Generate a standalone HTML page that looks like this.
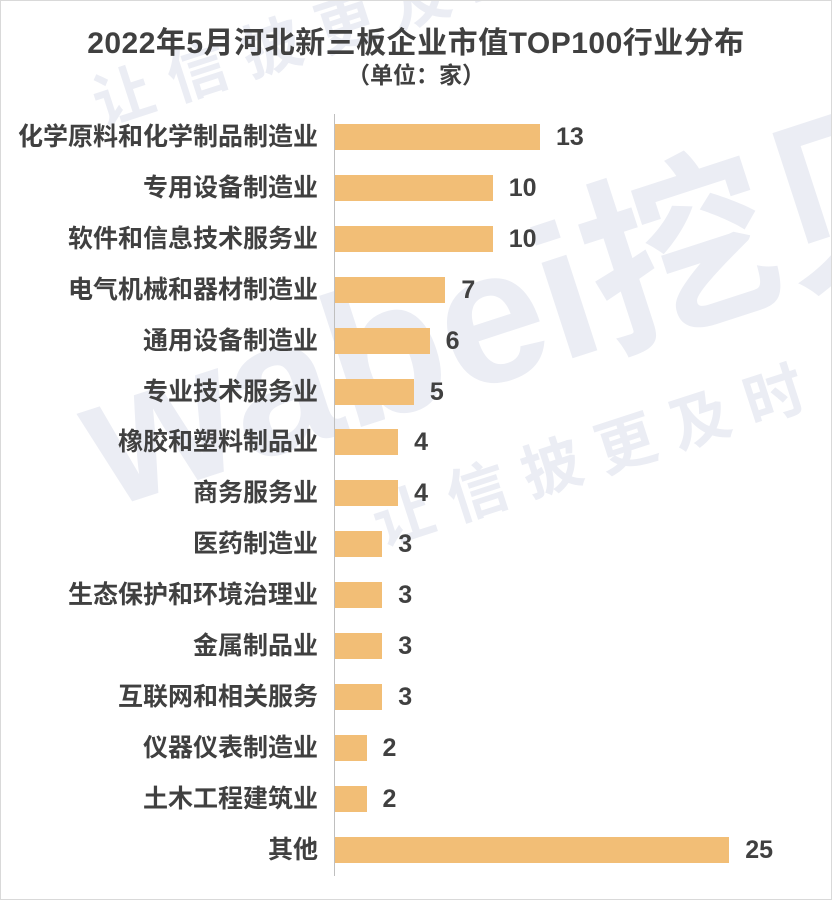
<!DOCTYPE html>
<html><head><meta charset="utf-8"><style>
body{margin:0;width:832px;height:900px;background:#fff;overflow:hidden;font-family:"Liberation Sans","Noto Sans CJK SC",sans-serif;}
#f{position:absolute;left:0;top:0;width:830px;height:898px;border:1px solid #d9d9d9;}
.t{position:absolute;left:0;width:832px;text-align:center;color:#404040;font-weight:bold;}
.l{position:absolute;right:514px;font-size:25px;font-weight:bold;color:#404040;white-space:nowrap;line-height:28px;}
.b{position:absolute;left:335px;height:26px;background:#F2BE76;}
.v{position:absolute;font-size:25px;font-weight:bold;color:#404040;line-height:28px;}
.wm{position:absolute;color:#ebedf4;font-weight:bold;white-space:nowrap;}
</style></head><body>
<div class="wm" style="left:40px;top:300px;font-size:190px;transform:rotate(-18deg);transform-origin:left top;">wabei挖贝</div>
<div class="wm" style="left:360px;top:480px;font-size:60px;transform:rotate(-18deg);transform-origin:left top;letter-spacing:18px;">让信披更及时</div>
<div class="wm" style="left:80px;top:60px;font-size:60px;transform:rotate(-18deg);transform-origin:left top;letter-spacing:18px;">让信披更及时</div>
<div id="f"></div>
<div class="t" style="top:18px;font-size:30px;letter-spacing:0.5px;">2022年5月河北新三板企业市值TOP100行业分布</div>
<div class="t" style="top:56px;font-size:23px;">（单位：家）</div>
<div style="position:absolute;left:334px;top:114px;width:1px;height:762px;background:#bfbfbf;"></div>
<div id="c"></div>
<script>
var d=[["化学原料和化学制品制造业",13],["专用设备制造业",10],["软件和信息技术服务业",10],["电气机械和器材制造业",7],["通用设备制造业",6],["专业技术服务业",5],["橡胶和塑料制品业",4],["商务服务业",4],["医药制造业",3],["生态保护和环境治理业",3],["金属制品业",3],["互联网和相关服务",3],["仪器仪表制造业",2],["土木工程建筑业",2],["其他",25]];
var h="";d.forEach(function(r,i){var c=137+i*50.9;var w=r[1]*15.77;
h+='<div class="l" style="top:'+(c-14)+'px">'+r[0]+'</div><div class="b" style="top:'+(c-13)+'px;width:'+w+'px"></div><div class="v" style="top:'+(c-14)+'px;left:'+(335+w+16)+'px">'+r[1]+'</div>';});
document.getElementById("c").innerHTML=h;
</script>
</body></html>
